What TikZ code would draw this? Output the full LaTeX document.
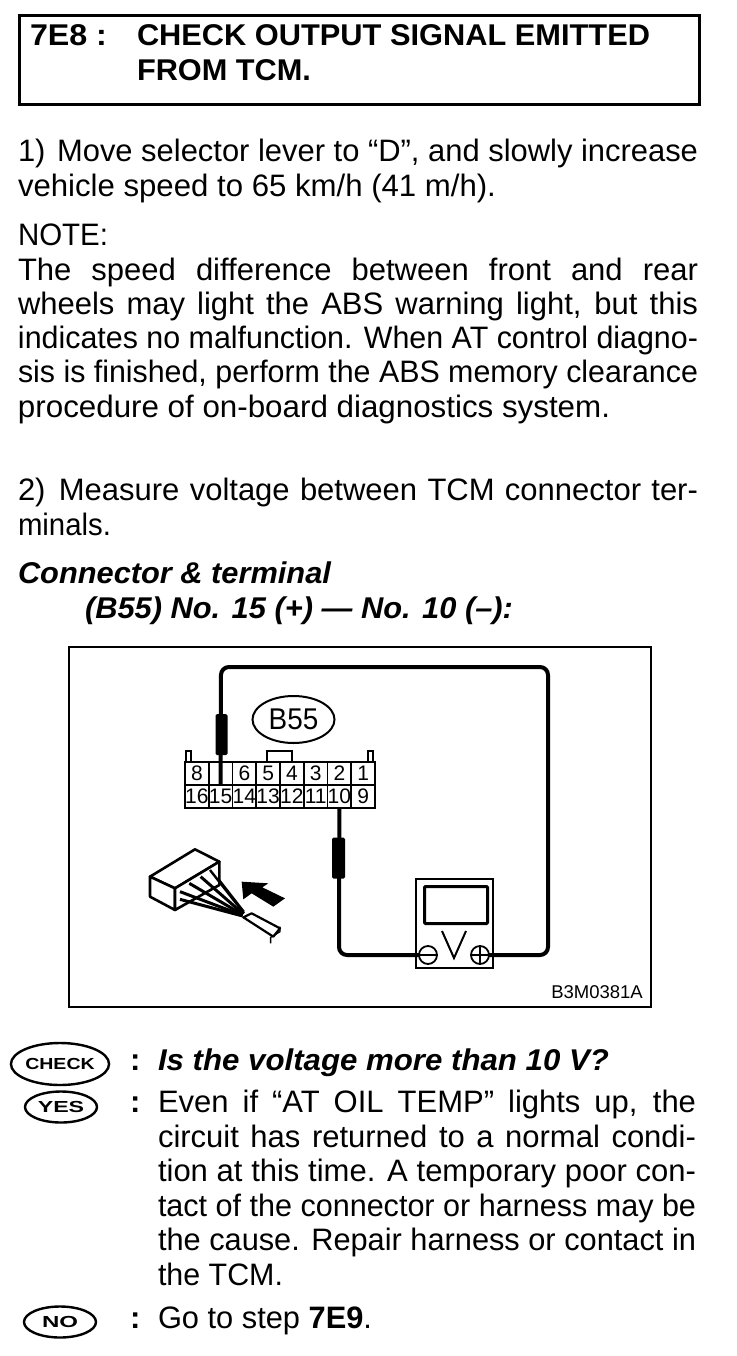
\documentclass[tikz,border=0pt]{standalone}
\usepackage{fontspec}
\usepackage{graphicx}
\setmainfont{Liberation Sans}
\usetikzlibrary{shapes.geometric}
\newsavebox{\linebox}
\newcommand{\W}[2]{\resizebox{#1pt}{\height}{#2}}
\newcommand{\J}[2]{\sbox{\linebox}{#2}\ifdim\wd\linebox>#1pt\relax\resizebox{#1pt}{\height}{\usebox{\linebox}}\else\makebox[#1pt][s]{#2}\fi}
\tikzset{
  txt/.style={anchor=base west,inner sep=0pt,outer sep=0pt,font=\fontsize{31}{34}\selectfont},
  head/.style={txt,font=\fontsize{30}{34}\bfseries\selectfont},
  subhead/.style={txt,font=\fontsize{30}{34}\bfseries\itshape\selectfont},
  cell/.style={draw,line width=1.8pt,minimum width=23.75pt,minimum height=23pt,inner sep=0pt,outer sep=0pt,font=\fontsize{21}{21}\selectfont},
  oval/.style={ellipse,draw,line width=2pt,inner sep=0pt,outer sep=0pt},
  badge/.style={oval,line width=2.4pt,font=\fontsize{16}{16}\bfseries\selectfont},
  wire/.style={line width=4pt,rounded corners=8pt},
  sleeve/.style={fill=black,rounded corners=1.5pt,inner sep=0pt,outer sep=0pt,minimum width=12pt,minimum height=41pt},
  frame/.style={draw,line width=2pt},
  pole/.style={circle,draw,fill=white,line width=1.8pt,minimum size=18pt,inner sep=0pt,outer sep=0pt},
  ill/.style={line width=2.6pt,line join=round}
}
\begin{document}
\begin{tikzpicture}[x=1pt,y=-1pt]
\useasboundingbox (0,0) rectangle (736,1356);
\fill[white] (0,0) rectangle (736,1356);
% title
\node[draw,line width=2.6pt,minimum width=680pt,minimum height=89pt,anchor=north west,inner sep=0pt] (titlebox) at (18,14) {};
\node[head] (t0) at (30,46) {\W{77}{7E8 :}};
\node[head] (t1) at (137,46) {\W{513}{CHECK OUTPUT SIGNAL EMITTED}};
\node[head] (t2) at (137,81) {\W{174}{FROM TCM.}};
% body
\node[txt] (a1) at (18,162) {\J{680}{1)\hspace{3pt} Move selector lever to “D”, and slowly increase}};
\node[txt] (a2) at (18,197) {\W{478}{vehicle speed to 65 km/h (41 m/h).}};
\node[txt] (n0) at (18,246) {\W{90}{NOTE:}};
\node[txt] (n1) at (18,280) {\J{680}{The speed difference between front and rear}};
\node[txt] (n2) at (18,314) {\J{680}{wheels may light the ABS warning light, but this}};
\node[txt] (n3) at (18,348) {\J{680}{indicates no malfunction. When AT control diagno-}};
\node[txt] (n4) at (18,382) {\J{680}{sis is finished, perform the ABS memory clearance}};
\node[txt] (n5) at (18,417) {\W{592}{procedure of on-board diagnostics system.}};
\node[txt] (b1) at (18,500) {\J{680}{2)\hspace{3pt} Measure voltage between TCM connector ter-}};
\node[txt] (b2) at (18,535) {\W{93}{minals.}};
\node[subhead] (c1) at (18,583) {\W{313}{Connector \& terminal}};
\node[subhead] (c2) at (85,618) {\W{428}{(B55) No. 15 (+) — No. 10 (–):}};
% figure frame
\node[frame,minimum width=582pt,minimum height=360pt,anchor=north west,inner sep=0pt] (fig) at (68,646) {};
% connector tabs
\draw[line width=1.8pt] (186,762) -- (186,751) -- (191,751) -- (191,762);
\draw[line width=1.8pt] (368,762) -- (368,751) -- (373,751) -- (373,762);
\draw[line width=1.8pt] (267,762) -- (267,751) -- (292,751) -- (292,762);
% connector cells
\foreach \n/\i in {8/0,7/1,6/2,5/3,4/4,3/5,2/6,1/7}{
  \pgfmathsetmacro{\cx}{196.9+23.75*\i}
  \ifnum\n=7
    \node[cell] (c\n) at (\cx,773.5) {};
  \else
    \node[cell] (c\n) at (\cx,773.5) {\n};
  \fi
}
\foreach \n/\i in {16/0,15/1,14/2,13/3,12/4,11/5,10/6,9/7}{
  \pgfmathsetmacro{\cx}{196.9+23.75*\i}
  \node[cell] (c\n) at (\cx,796.5) {\n};
}
\node[oval,minimum width=82pt,minimum height=47pt,font=\fontsize{30}{30}\selectfont] (b55) at (293.5,719.5) {\scalebox{.93}[1]{B55}};
% meter
\node[draw,line width=2pt,minimum width=77pt,minimum height=89pt,anchor=north west,inner sep=0pt,outer sep=0pt] (meter) at (416,879) {};
\node[draw,line width=3pt,rounded corners=1pt,minimum width=63pt,minimum height=37pt,anchor=north west,inner sep=0pt] (screen) at (423,885) {};
\coordinate (va) at (442,931);
\coordinate (vb) at (454,958);
\coordinate (vc) at (466,931);
\draw[line width=2pt] (va) -- (vb) -- (vc);
% wires
\coordinate (wtl) at (221,667);
\coordinate (wtr) at (548,667);
\coordinate (wbr) at (548,955);
\coordinate (wbl) at (339,955);
\node[pole] (minus) at (428,955) {};
\node[pole] (plus) at (480,955) {};
\draw[line width=1.8pt] (minus.west) -- (minus.east);
\draw[line width=1.8pt] (plus.west) -- (plus.east);
\draw[line width=1.8pt] (plus.north) -- (plus.south);
\draw[wire] (c7.south) -- (wtl) -- (wtr) -- (wbr) -- (plus.east);
\draw[wire] (c10.south) -- (wbl) -- (minus.west);
\node[sleeve] (s1) at (221.5,734.5) {};
\node[sleeve,minimum width=13pt] (s2) at (338.5,858) {};
\node[anchor=base east,inner sep=0pt,font=\fontsize{18.5}{19}\selectfont] (code) at (643,998) {B3M0381A};
% small plug illustration
\begin{scope}[shift={(130,800)},x=.3333pt,y=-.3333pt]
  \draw[ill,fill=white] (60,230) -- (195,148) -- (268,185) -- (135,265) -- cycle;
  \draw[ill,fill=white] (60,230) -- (135,265) -- (135,330) -- (60,290) -- cycle;
  \draw[ill,fill=white] (135,265) -- (268,185) -- (268,255) -- (135,330) -- cycle;
  \draw[line width=3pt] (150,298) -- (338,348);
  \draw[line width=3pt] (150,275) -- (338,346);
  \draw[line width=3pt] (178,250) -- (338,344);
  \draw[line width=3pt] (212,230) -- (340,342);
  \draw[line width=2.4pt] (240,210) -- (342,340);
  \draw[line width=2pt] (268,240) -- (342,335);
  \draw[ill,fill=white,line width=2.2pt] (340,352) -- (365,340) -- (450,385) -- (430,410) -- cycle;
  \draw[line width=1.4pt] (450,380) -- (450,395) -- (422,412) -- (422,430);
  \fill (335,245) -- (415,250) -- (397,262) -- (465,295) -- (430,320) -- (365,280) -- (340,298) -- cycle;
\end{scope}
% results
\node[badge,minimum width=90pt,minimum height=42pt] (chk) at (60,1064) {\scalebox{1.22}[1]{CHECK}};
\node[badge,minimum width=72pt,minimum height=31pt] (yes) at (61,1107) {\scalebox{1.45}[1]{YES}};
\node[badge,minimum width=72pt,minimum height=31pt] (no) at (60,1322) {\scalebox{1.5}[1]{NO}};
\node[txt] (cc) at (130,1070) {\textbf{:}};
\node[subhead] (q) at (158,1070) {\W{451}{Is the voltage more than 10 V?}};
\node[txt] (cy) at (130,1112) {\textbf{:}};
\node[txt] (y1) at (158,1112) {\J{538}{Even if “AT OIL TEMP” lights up, the}};
\node[txt] (y2) at (158,1147) {\J{538}{circuit has returned to a normal condi-}};
\node[txt] (y3) at (158,1181) {\J{538}{tion at this time. A temporary poor con-}};
\node[txt] (y4) at (158,1216) {\J{538}{tact of the connector or harness may be}};
\node[txt] (y5) at (158,1250) {\J{538}{the cause. Repair harness or contact in}};
\node[txt] (y6) at (158,1285) {\W{125}{the TCM.}};
\node[txt] (cn) at (130,1328) {\textbf{:}};
\node[txt] (g) at (158,1328) {\W{214}{Go to step \textbf{7E9}.}};
\end{tikzpicture}
\end{document}
